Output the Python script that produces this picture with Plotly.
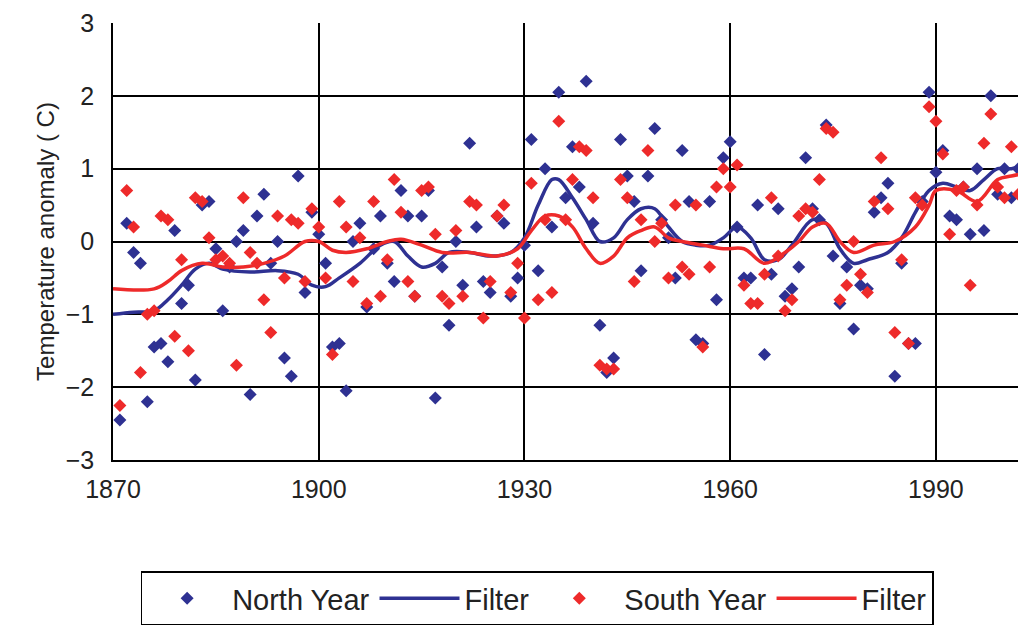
import plotly.graph_objects as go

years = list(range(1871, 2005))
north = [-2.45,0.25,-0.15,-0.3,-2.2,-1.45,-1.4,-1.65,0.15,-0.85,-0.6,-1.9,0.5,0.55,-0.1,-0.95,-0.35,0.0,0.15,-2.1,
0.35,0.65,-0.3,0.0,-1.6,-1.85,0.9,-0.7,0.4,0.1,-0.3,-1.45,-1.4,-2.05,0.0,0.25,-0.9,-0.1,0.35,-0.3,
-0.55,0.7,0.35,-0.75,0.35,0.7,-2.15,-0.35,-1.15,0.0,-0.6,1.35,0.2,-0.55,-0.7,0.35,0.25,-0.75,-0.5,-0.05,
1.4,-0.4,1.0,0.2,2.05,0.6,1.3,0.75,2.2,0.25,-1.15,-1.8,-1.6,1.4,0.9,0.55,-0.4,0.9,1.55,0.3,
0.05,-0.5,1.25,0.55,-1.35,-1.4,0.55,-0.8,1.15,1.37,0.2,-0.5,-0.5,0.5,-1.55,-0.45,0.45,-0.75,-0.65,-0.35,
1.15,0.45,0.3,1.6,-0.2,-0.85,-0.35,-1.2,-0.6,-0.65,0.4,0.6,0.8,-1.85,-0.3,-1.4,-1.4,0.55,2.05,0.95,
1.25,0.35,0.3,0.75,0.1,1.0,0.15,2.0,0.65,1.0,0.6,1.0,1.1,1.2]
south = [-2.25,0.7,0.2,-1.8,-1.0,-0.95,0.35,0.3,-1.3,-0.25,-1.5,0.6,0.55,0.05,-0.25,-0.2,-0.3,-1.7,0.6,-0.15,
-0.3,-0.8,-1.25,0.35,-0.5,0.3,0.25,-0.55,0.45,0.2,-0.5,-1.55,0.55,0.2,-0.55,0.05,-0.85,0.55,-0.75,-0.25,
0.85,0.4,-0.55,-0.75,0.7,0.75,0.1,-0.75,-0.85,0.15,-0.75,0.55,0.5,-1.05,-0.55,0.35,0.5,-0.7,-0.3,-1.05,
0.8,-0.8,0.3,-0.7,1.65,0.3,0.85,1.3,1.25,0.6,-1.7,-1.75,-1.75,0.85,0.6,-0.55,0.3,1.25,0.0,0.25,
-0.5,0.5,-0.35,-0.45,0.5,-1.45,-0.35,0.75,1.0,0.75,1.05,-0.6,-0.85,-0.85,-0.45,0.6,-0.2,-0.95,-0.8,0.35,
0.45,0.4,0.85,1.55,1.5,-0.8,-0.6,0.0,-0.45,-0.7,0.55,1.15,0.45,-1.25,-0.25,-1.4,0.6,0.5,1.85,1.65,
1.2,0.1,0.7,0.75,-0.6,0.5,1.35,1.75,0.75,0.6,1.3,0.65,0.7,0.9]

nf_years = [1870,1873,1876,1878,1880,1882,1884,1886,1890,1894,1897,1899,1901,1903,1906,1909,1911,1913,1915,1917,1919,1922,1925,1928,1930,1932,1934,1935,1937,1939,1941,1943,1945,1947,1949,1951,1953,1955,1957,1959,1961,1963,1965,1967,1969,1972,1974,1976,1978,1980,1983,1985,1987,1989,1991,1993,1995,1997,1999,2001,2004]
nf_vals = [-1.0,-0.97,-0.95,-0.8,-0.6,-0.38,-0.3,-0.38,-0.42,-0.4,-0.45,-0.6,-0.62,-0.5,-0.3,-0.05,0.0,-0.2,-0.35,-0.3,-0.15,-0.15,-0.2,-0.15,0.05,0.5,0.85,0.85,0.6,0.3,0.0,0.05,0.3,0.45,0.45,0.2,0.0,-0.05,-0.05,0.05,0.2,0.05,-0.25,-0.25,-0.05,0.3,0.25,-0.1,-0.3,-0.25,-0.15,0.05,0.4,0.7,0.8,0.75,0.7,0.85,1.0,1.0,1.1]
sf_years = [1870,1876,1878,1880,1883,1886,1889,1892,1895,1898,1900,1902,1904,1907,1910,1912,1915,1918,1922,1926,1929,1931,1933,1935,1937,1939,1941,1943,1945,1947,1949,1951,1953,1956,1959,1962,1965,1968,1970,1972,1974,1976,1978,1981,1984,1987,1989,1990,1993,1996,1999,2001,2004]
sf_vals = [-0.65,-0.65,-0.55,-0.4,-0.3,-0.35,-0.35,-0.3,-0.2,0.0,0.0,-0.12,-0.15,-0.1,0.0,0.03,-0.05,-0.15,-0.15,-0.2,-0.1,0.15,0.35,0.35,0.2,-0.1,-0.3,-0.2,0.05,0.15,0.2,0.05,0.0,-0.05,-0.1,-0.1,-0.3,-0.15,0.0,0.2,0.25,0.0,-0.15,-0.05,0.0,0.2,0.5,0.7,0.7,0.55,0.85,0.9,0.95]

BLUE = "#2E3192"
RED = "#EE2A2A"

fig = go.Figure()
fig.add_trace(go.Scatter(x=years, y=north, mode="markers", name="North Year",
                         marker=dict(symbol="diamond", size=10, color=BLUE)))
fig.add_trace(go.Scatter(x=nf_years, y=nf_vals, mode="lines", name="Filter",
                         line=dict(color=BLUE, width=3.5, shape="spline")))
fig.add_trace(go.Scatter(x=years, y=south, mode="markers", name="South Year",
                         marker=dict(symbol="diamond", size=10, color=RED)))
fig.add_trace(go.Scatter(x=sf_years, y=sf_vals, mode="lines", name="Filter",
                         line=dict(color=RED, width=3.5, shape="spline")))

fig.update_layout(
    width=1026, height=626, margin=dict(l=105, r=0, t=15, b=174, autoexpand=False),
    paper_bgcolor="white", plot_bgcolor="white",
    font=dict(family="Liberation Sans, Arial", size=25, color="#222"),
    legend=dict(orientation="h", x=0.03, y=-0.255, xanchor="left", yanchor="top",
                bordercolor="black", borderwidth=1.5, font=dict(size=29),
                traceorder="normal", itemwidth=80),
    showlegend=True,
)
fig.update_xaxes(range=[1870, 2004.3], tickmode="array", tickvals=[1870,1900,1930,1960,1990],
                 showgrid=True, gridcolor="black", gridwidth=1.5, zeroline=False,
                 showline=True, linecolor="black", linewidth=1.5, ticks="outside",
                 ticklen=6, tickcolor="white")
fig.update_yaxes(range=[-3, 3], dtick=1, showgrid=True, gridcolor="black", gridwidth=1.5,
                 zeroline=False, showline=True, linecolor="black", linewidth=1.5,
                 ticks="outside", ticklen=12, tickcolor="white",
                 title=dict(text="Temperature anomaly ( C)", font=dict(size=24), standoff=4))
fig.write_html("out.html")
